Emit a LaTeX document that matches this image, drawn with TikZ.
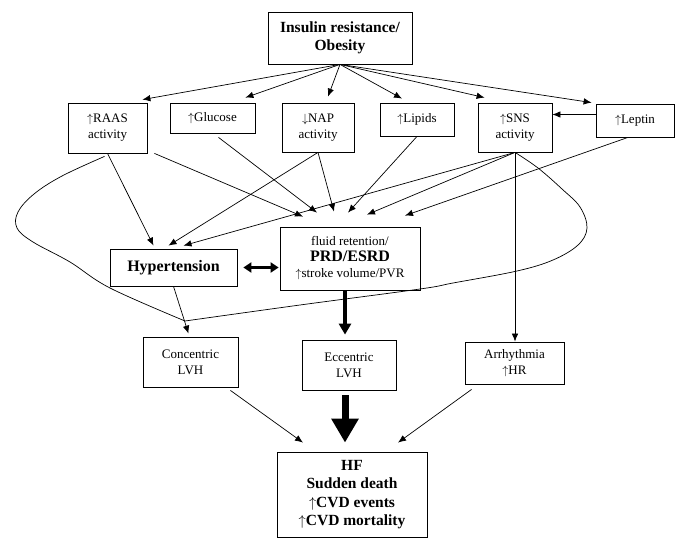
\documentclass[tikz,border=0pt]{standalone}
\usepackage{fontspec}
\setmainfont{Liberation Serif}
\usetikzlibrary{arrows.meta}
\begin{document}
\begin{tikzpicture}[x=1pt, y=-1pt,
	factor/.style={draw, fill=white, align=center, inner sep=1pt, line width=0.8pt, font=\fontsize{13}{16}\selectfont},
	result/.style={factor, font=\fontsize{15.5}{18.5}\selectfont\bfseries},
	link/.style={line width=0.7pt, -{Latex[length=8pt,width=6.5pt]}},
	heavy/.style={line width=3.5pt, -{Triangle[length=11pt,width=12pt]}},
	both/.style={line width=2.5pt, {Triangle[length=8pt,width=10pt]}-{Triangle[length=8pt,width=10pt]}},
	fat/.style={line width=7pt, -{Triangle[length=24pt,width=26pt]}},
	loopline/.style={line width=0.7pt}]
%			\draw[help lines] (0,0) grid (682,538);
			\useasboundingbox (0,0) rectangle (682,538);
			\node[result, minimum width=144pt, minimum height=52pt] (ir) at (340,38) {Insulin resistance/\\Obesity};
			\node[factor, minimum width=79pt, minimum height=50pt] (raas) at (107.5,128) {$\uparrow$RAAS\\activity};
			\node[factor, minimum width=85pt, minimum height=30pt] (glucose) at (212.5,118) {$\uparrow$Glucose};
			\node[factor, minimum width=72pt, minimum height=49pt] (nap) at (318,127.5) {$\downarrow$NAP\\activity};
			\node[factor, minimum width=74pt, minimum height=33pt] (lipids) at (417,119.5) {$\uparrow$Lipids};
			\node[factor, minimum width=74pt, minimum height=49pt] (sns) at (515,127.5) {$\uparrow$SNS\\activity};
			\node[factor, minimum width=78pt, minimum height=33pt] (leptin) at (635,120.5) {$\uparrow$Leptin};
			\node[result, font=\fontsize{16}{18}\selectfont\bfseries, minimum width=127pt, minimum height=37pt] (hyper) at (173.5,267.5) {Hypertension};
			\node[factor, minimum width=140pt, minimum height=63pt] (fluid) at (350,258.5) {fluid retention/\\{\fontsize{16}{18}\selectfont\bfseries PRD/ESRD}\\$\uparrow$stroke volume/PVR};
			\node[factor, minimum width=95pt, minimum height=50pt] (conc) at (190.5,362) {Concentric\\LVH};
			\node[factor, minimum width=94pt, minimum height=50pt] (ecc) at (349,365) {Eccentric\\LVH};
			\node[factor, minimum width=99pt, minimum height=42pt] (arr) at (514.5,363) {Arrhythmia\\$\uparrow$HR};
			\node[result, minimum width=150pt, minimum height=85pt] (hf) at (352,494.5) {HF\\Sudden death\\$\uparrow$CVD events\\$\uparrow$CVD mortality};
			\coordinate (bend) at (185,321);
			% the big loop from RAAS round to SNS
			\draw[loopline] plot[smooth, tension=0.6] coordinates {([xshift=-3pt,yshift=-3pt]raas.south) (62,176) (34,194) (18,212) (17,228) (33,242) (70,262) (110,288) (bend)};
			\draw[loopline] plot[smooth, tension=0.6] coordinates {(bend) (300,305) (420,289) (453,283) (517,271) (553,260) (578,245) (587,228) (580,207) (562,189) (538,168) (sns.south)};
			\draw[link] (ir.south) -- ([xshift=-5pt,yshift=3pt]raas.north east);
			\draw[link] (ir.south) -- ([xshift=-10pt,yshift=5pt]glucose.north east);
			\draw[link] (ir.south) -- ([xshift=10pt,yshift=6pt]nap.north);
			\draw[link] (ir.south) -- ([xshift=-15pt,yshift=4pt]lipids.north);
			\draw[link] (ir.south) -- ([xshift=7pt,yshift=5pt]sns.north west);
			\draw[link] (ir.south) -- ([xshift=-4pt,yshift=1pt]leptin.north west);
			\draw[link] ([yshift=6pt]leptin.west) -- ([yshift=6pt]leptin.west -| sns.east);
			\draw[link] (raas.south) -- ([xshift=-20pt,yshift=3pt]hyper.north);
			\draw[link] (nap.south) -- ([xshift=-5pt,yshift=3pt]hyper.north);
			\draw[link] (sns.south) -- ([xshift=10pt,yshift=3pt]hyper.north);
			\draw[link] ([xshift=7pt]raas.south east) -- ([xshift=-47pt,yshift=10pt]fluid.north);
			\draw[link] ([xshift=6pt,yshift=-4pt]glucose.south) -- ([xshift=-33pt,yshift=14pt]fluid.north);
			\draw[link] (nap.south) -- ([xshift=-16pt,yshift=15pt]fluid.north);
			\draw[link] (lipids.south) -- ([xshift=-2pt,yshift=14pt]fluid.north);
			\draw[link] (sns.south) -- ([xshift=17pt,yshift=12pt]fluid.north);
			\draw[link] ([xshift=-7pt]leptin.south) -- ([xshift=55pt,yshift=11pt]fluid.north);
			\draw[link] (sns.south) -- (sns.south |- arr.north);
			\draw[both] ([xshift=6pt]hyper.east) -- ([xshift=-1pt]hyper.east -| fluid.west);
			\draw[heavy] ([xshift=-5pt]fluid.south) -- ([xshift=-4pt,yshift=5pt]ecc.north);
			\draw[link] (hyper.south) -- ([xshift=-2pt,yshift=3pt]conc.north);
			\draw[link] ([xshift=-8pt,yshift=-3pt]conc.south east) -- ([xshift=-49pt,yshift=9pt]hf.north);
			\draw[fat] ([xshift=-4pt,yshift=-5pt]ecc.south) -- ([xshift=-7pt,yshift=9pt]hf.north);
			\draw[link] ([xshift=7pt,yshift=-5pt]arr.south west) -- ([xshift=46pt,yshift=9pt]hf.north);
		\end{tikzpicture}
\end{document}
